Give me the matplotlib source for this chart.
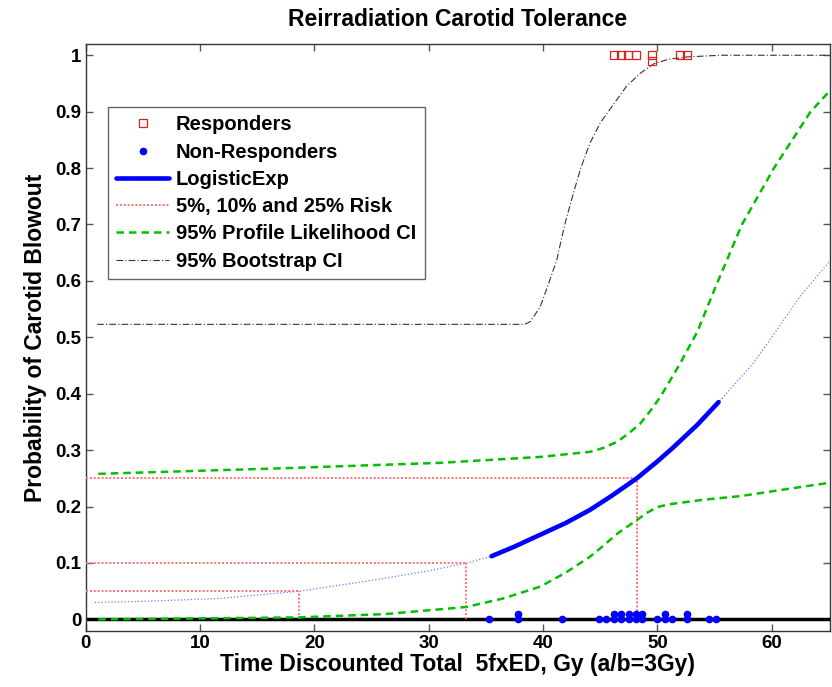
import numpy as np
import matplotlib
matplotlib.use('Agg')
import matplotlib.pyplot as plt

plt.rcParams['font.family'] = ['Liberation Sans', 'DejaVu Sans']
plt.rcParams['font.weight'] = 'bold'

# observed outcomes (dose, outcome); stacked points at 0.99 / 0.01 mark repeats
resp_x = [46.2, 46.8, 47.4, 48.1, 49.5, 49.5, 52.0, 52.6]
resp_y = [1.0, 1.0, 1.0, 1.0, 1.0, 0.99, 1.0, 1.0]
nonresp_x = [35.3, 37.8, 37.8, 41.7, 44.9, 45.5, 46.2, 46.2, 46.8, 46.8,
             47.5, 47.5, 48.1, 48.1, 48.7, 48.7, 50.0, 50.7, 50.7, 51.3,
             52.6, 52.6, 54.5, 55.1]
nonresp_y = [0.0, 0.0, 0.01, 0.0, 0.0, 0.0, 0.0, 0.01, 0.0, 0.01,
             0.0, 0.01, 0.0, 0.01, 0.0, 0.01, 0.0, 0.0, 0.01, 0.0,
             0.0, 0.01, 0.0, 0.0]

# fitted LogisticExp curve
fit_x = [0.8, 5.0, 11.6, 15.0, 18.7, 22.0, 26.2, 30.0, 33.3, 35.5, 37.5,
         39.75, 42.0, 44.1, 46.0, 48.2, 50.0, 51.4, 53.5, 55.35, 58.4,
         60.45, 62.5, 65.0]
fit_y = [0.030, 0.032, 0.037, 0.043, 0.05, 0.060, 0.073, 0.086, 0.10,
         0.112, 0.129, 0.150, 0.171, 0.194, 0.219, 0.25, 0.280, 0.305,
         0.345, 0.385, 0.454, 0.513, 0.573, 0.633]
data_range = (35.3, 55.4)

# 95% profile likelihood band
pl_hi_x = [1.1, 17.4, 31.0, 39.75, 44.1, 45.3, 46.5, 47.5, 48.5, 49.4,
           50.25, 51.1, 52.0, 53.5, 55.0, 57.4, 60.2, 63.4, 65.0]
pl_hi_y = [0.258, 0.268, 0.2775, 0.288, 0.297, 0.304, 0.315, 0.330, 0.347,
           0.370, 0.394, 0.423, 0.454, 0.51, 0.585, 0.70, 0.80, 0.90, 0.935]
pl_lo_x = [1.1, 18.6, 26.2, 33.3, 36.5, 39.75, 42.0, 44.1, 45.3, 46.5,
           48.2, 49.1, 50.0, 51.0, 52.0, 54.0, 57.25, 61.0, 65.0]
pl_lo_y = [0.0, 0.0035, 0.0094, 0.022, 0.037, 0.058, 0.083, 0.111, 0.131,
           0.152, 0.176, 0.189, 0.199, 0.204, 0.2066, 0.212, 0.2185, 0.230,
           0.242]

# 95% bootstrap band (upper)
bs_x = [1.0, 38.4, 38.9, 39.75, 40.4, 41.2, 41.9, 42.65, 43.3, 44.1, 45.0,
        46.2, 47.3, 48.5, 49.7, 51.0, 52.6, 55.5, 65.0]
bs_y = [0.523, 0.523, 0.528, 0.554, 0.590, 0.637, 0.700, 0.755, 0.800,
        0.844, 0.880, 0.914, 0.945, 0.968, 0.985, 0.993, 0.997, 1.0, 1.0]

# risk levels and the dose where the fit reaches them
risk_levels = [0.05, 0.10, 0.25]
risk_doses = [18.7, 33.3, 48.2]

fig = plt.figure(figsize=(8.32, 6.87), dpi=100)
ax = fig.add_axes([0.103, 0.082, 0.8946, 0.854])

ax.axhline(0, color='k', lw=2.5, zorder=2)

ax.plot(fit_x, fit_y, ':', color='#7777ff', lw=0.9, zorder=3)
fx = np.array(fit_x)
fy = np.array(fit_y)
sel = (fx >= data_range[0]) & (fx <= data_range[1])
h_fit, = ax.plot(fx[sel], fy[sel], '-', color='#0000ff', lw=3.3,
                 solid_capstyle='round', zorder=4)

h_risk = None
for lvl, d in zip(risk_levels, risk_doses):
    h_risk, = ax.plot([0, d], [lvl, lvl], color='#ff7070', lw=1.4,
                      dashes=(1, 1), zorder=3)
    ax.plot([d, d], [0, lvl], color='#ff7070', lw=1.4, dashes=(1, 1),
            zorder=3)

h_pl, = ax.plot(pl_hi_x, pl_hi_y, '--', color='#00c000', lw=1.8,
                dashes=(3, 2), zorder=3)
ax.plot(pl_lo_x, pl_lo_y, '--', color='#00c000', lw=1.8, dashes=(3, 2),
        zorder=3)

h_bs, = ax.plot(bs_x, bs_y, '-.', color='#333333', lw=0.8,
                dashes=(6, 2, 1, 2), zorder=3)

h_resp, = ax.plot(resp_x, resp_y, 's', mfc='none', mec='#e02020', ms=5.5,
                  mew=0.9, ls='none', zorder=5)
h_non, = ax.plot(nonresp_x, nonresp_y, 'o', color='#0000ff', ms=4.5,
                 ls='none', zorder=5)

ax.set_xlim(0, 65.1)
ax.set_ylim(-0.02, 1.02)
ax.set_xticks(np.arange(0, 61, 10))
ax.set_yticks(np.arange(0, 1.01, 0.1))
ax.set_yticklabels(['0'] + ['%.1f' % v for v in np.arange(0.1, 0.95, 0.1)] + ['1'])
ax.tick_params(direction='in', top=True, right=True, length=5, width=1,
               color='#555555', labelsize=13.5, pad=3)
for lab in ax.get_xticklabels() + ax.get_yticklabels():
    lab.set_fontweight('bold')
for sp in ax.spines.values():
    sp.set_color('#333333')
    sp.set_linewidth(1)

ax.set_title('Reirradiation Carotid Tolerance', fontsize=16.5,
             fontweight='bold', pad=13)
ax.set_xlabel('Time Discounted Total  5fxED, Gy (a/b=3Gy)', fontsize=16.5,
              fontweight='bold', labelpad=1)
ax.set_ylabel('Probability of Carotid Blowout', fontsize=16.5,
              fontweight='bold', labelpad=6)

leg = ax.legend([h_resp, h_non, h_fit, h_risk, h_pl, h_bs],
                ['Responders', 'Non-Responders', 'LogisticExp',
                 '5%, 10% and 25% Risk', '95% Profile Likelihood CI',
                 '95% Bootstrap CI'],
                loc='upper left', bbox_to_anchor=(0.030, 0.8926),
                borderaxespad=0, fancybox=False, framealpha=1,
                edgecolor='#666666', numpoints=1, handlelength=2.6,
                labelspacing=0.41, handletextpad=0.35, borderpad=0.42,
                prop={'weight': 'bold', 'size': 14.5})
leg.get_frame().set_linewidth(1)

fig.savefig('out.png', dpi=100, facecolor='white')
